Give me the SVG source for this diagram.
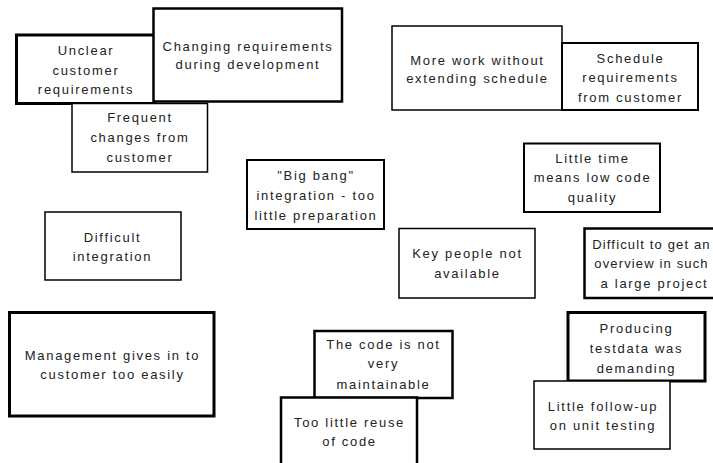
<svg xmlns="http://www.w3.org/2000/svg" width="713" height="463" viewBox="0 0 713 463">
<style>
rect{fill:#fff;stroke:#000}
text{font-family:"Liberation Sans",Arial,sans-serif;font-size:13px;letter-spacing:1.7px;fill:#222;text-anchor:middle}
.t1{stroke-width:1.5}.t2{stroke-width:2}.t25{stroke-width:2.5}.t3{stroke-width:3}
.tight{letter-spacing:1.15px}
</style>
<rect width="713" height="463" style="stroke:none"/>
<g id="connectors"/>
<g id="unclear"><rect class="t3" x="16.5" y="35" width="138" height="68.5"/>
<text x="86" y="55">Unclear</text><text x="86" y="74.5">customer</text><text x="86" y="94">requirements</text></g>
<g id="changing"><rect class="t25" x="153.5" y="8.5" width="188.5" height="93"/>
<text x="248" y="50.5">Changing requirements</text><text x="248" y="69">during development</text></g>
<g id="frequent"><rect class="t1" x="72" y="103.5" width="135.5" height="68.5"/>
<text x="140" y="122">Frequent</text><text x="140" y="142">changes from</text><text x="140" y="162">customer</text></g>
<g id="morework"><rect class="t1" x="392" y="26" width="170" height="84"/>
<text x="477.5" y="64.5">More work without</text><text x="477.5" y="83">extending schedule</text></g>
<g id="schedule"><rect class="t2" x="562" y="43" width="136" height="67"/>
<text x="630.5" y="62.5">Schedule</text><text x="630.5" y="82">requirements</text><text x="630.5" y="101.5">from customer</text></g>
<g id="littletime"><rect class="t2" x="524" y="143.5" width="136" height="68.5"/>
<text x="592.5" y="162.5">Little time</text><text x="592.5" y="182">means low code</text><text x="592.5" y="201.5">quality</text></g>
<g id="bigbang"><rect class="t2" x="247" y="160" width="137" height="69"/>
<text x="316" y="179.5">"Big bang"</text><text x="316" y="200">integration - too</text><text x="316" y="220">little preparation</text></g>
<g id="diffint"><rect class="t1" x="45" y="212" width="136" height="68"/>
<text x="112.5" y="241.7">Difficult</text><text x="112.5" y="260.7">integration</text></g>
<g id="keypeople"><rect class="t1" x="399" y="228.5" width="136" height="69.5"/>
<text x="467.5" y="258.3">Key people not</text><text x="467.5" y="277.5">available</text></g>
<g id="overview"><rect class="t25" x="584.5" y="228.5" width="140" height="69.5"/>
<text class="tight" x="651.5" y="248.5">Difficult to get an</text><text class="tight" x="651.5" y="267.5">overview in such</text><text x="654.5" y="287.5">a large project</text></g>
<g id="management"><rect class="t3" x="9.5" y="312.5" width="204.5" height="103.5"/>
<text x="112.5" y="360">Management gives in to</text><text x="112.5" y="378.5">customer too easily</text></g>
<g id="maintainable"><rect class="t25" x="314.5" y="331" width="138" height="67"/>
<text x="383.5" y="349.3">The code is not</text><text x="383.5" y="368">very</text><text x="383.5" y="388.5">maintainable</text></g>
<g id="reuse"><rect class="t25" x="281" y="397.5" width="136" height="80"/>
<text x="349.5" y="427">Too little reuse</text><text x="349.5" y="446">of code</text></g>
<g id="testdata"><rect class="t3" x="568" y="312.5" width="137" height="68.5"/>
<text x="636.5" y="333">Producing</text><text x="636.5" y="352.5">testdata was</text><text x="636.5" y="372.5">demanding</text></g>
<g id="followup"><rect class="t1" x="534" y="381" width="136" height="68"/>
<text x="603" y="410.7">Little follow-up</text><text x="603" y="430">on unit testing</text></g>
</svg>
